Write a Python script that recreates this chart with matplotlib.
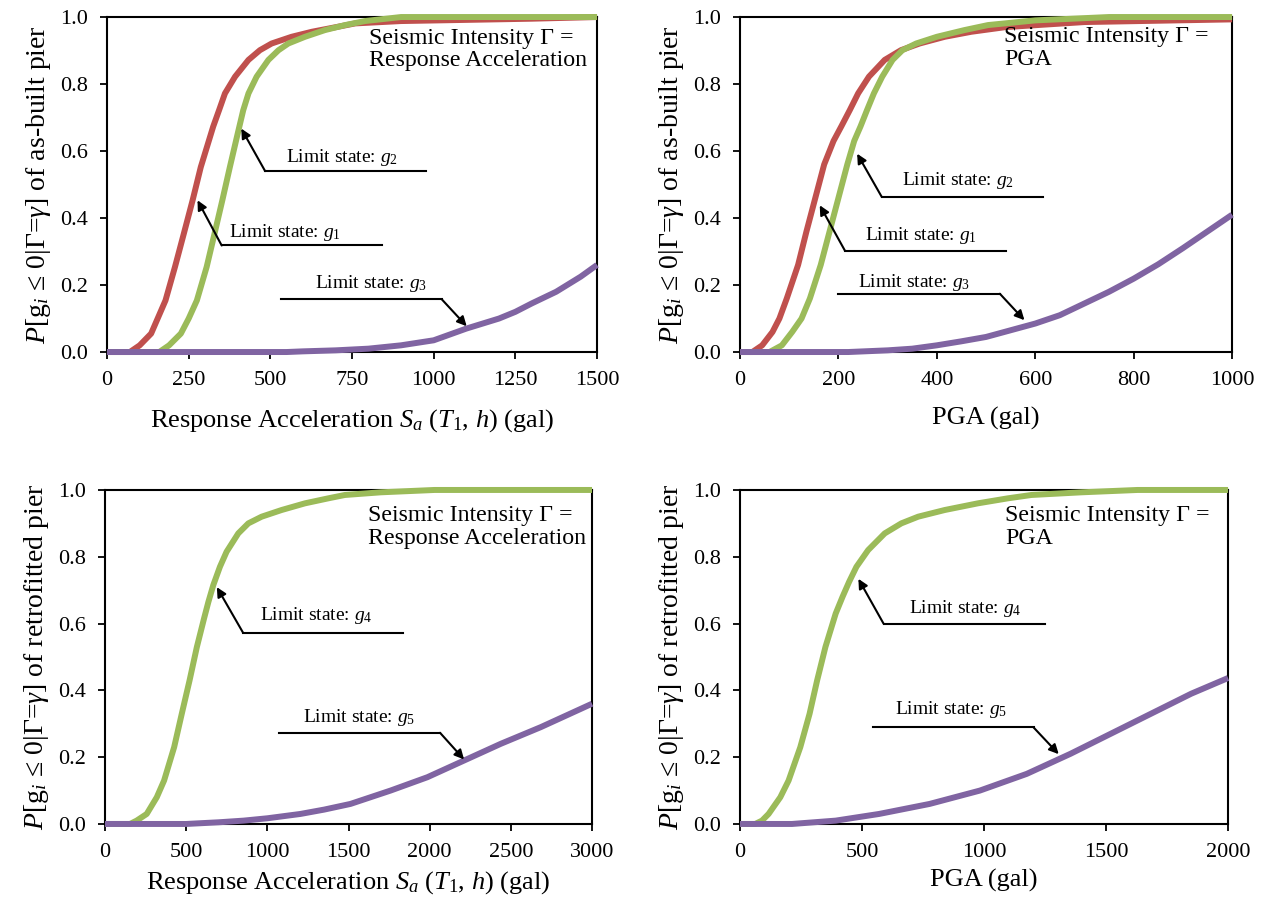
import matplotlib
matplotlib.use('Agg')
import matplotlib.pyplot as plt

# 폰트 설정 (Times 계열)
plt.rcParams['font.family'] = ['Liberation Serif', 'DejaVu Serif']
plt.rcParams['mathtext.fontset'] = 'custom'
plt.rcParams['mathtext.rm'] = 'Liberation Serif'
plt.rcParams['mathtext.it'] = 'Liberation Serif:italic'
plt.rcParams['mathtext.bf'] = 'Liberation Serif:bold'

RED = '#C0504D'
GREEN = '#9BBB59'
PURPLE = '#8064A2'

# ---- 데이터 ----
# as-built pier, Sa
sa_g1_x = [0, 70, 100, 135, 155, 179, 208, 235, 262, 287, 325, 343, 361, 392, 433, 468, 504, 565, 627, 707, 760, 900, 1300, 1500]
sa_g1_y = [0, 0, 0.02, 0.055, 0.10, 0.154, 0.254, 0.353, 0.453, 0.552, 0.673, 0.722, 0.772, 0.822, 0.872, 0.901, 0.921, 0.941, 0.956, 0.971, 0.981, 0.988, 0.995, 1.0]
sa_g2_x = [0, 160, 190, 226, 250, 275, 305, 329, 353, 376, 400, 417, 433, 458, 494, 525, 555, 606, 667, 729, 790, 900, 1500]
sa_g2_y = [0, 0, 0.02, 0.055, 0.10, 0.154, 0.254, 0.353, 0.453, 0.552, 0.652, 0.722, 0.772, 0.822, 0.872, 0.901, 0.921, 0.941, 0.961, 0.976, 0.988, 1.0, 1.0]
sa_g3_x = [0, 550, 600, 700, 800, 900, 1000, 1100, 1200, 1250, 1300, 1375, 1450, 1500]
sa_g3_y = [0, 0, 0.002, 0.005, 0.01, 0.02, 0.035, 0.07, 0.10, 0.12, 0.145, 0.18, 0.225, 0.26]

# as-built pier, PGA
pga_g1_x = [0, 25, 45, 66, 80, 95, 118, 135, 153, 171, 190, 206, 223, 240, 262, 294, 327, 365, 416, 470, 540, 700, 1000]
pga_g1_y = [0, 0, 0.02, 0.06, 0.10, 0.16, 0.26, 0.36, 0.46, 0.56, 0.63, 0.674, 0.722, 0.772, 0.822, 0.872, 0.901, 0.921, 0.941, 0.956, 0.97, 0.985, 0.993]
pga_g2_x = [0, 60, 85, 106, 125, 142, 164, 182, 200, 218, 232, 245, 258, 272, 289, 310, 330, 358, 400, 456, 504, 600, 750, 1000]
pga_g2_y = [0, 0, 0.02, 0.06, 0.10, 0.16, 0.26, 0.36, 0.46, 0.56, 0.63, 0.674, 0.722, 0.772, 0.822, 0.872, 0.901, 0.921, 0.941, 0.961, 0.976, 0.99, 1.0, 1.0]
pga_g3_x = [0, 220, 300, 350, 400, 450, 500, 550, 600, 650, 700, 750, 800, 850, 900, 950, 1000]
pga_g3_y = [0, 0, 0.005, 0.01, 0.02, 0.032, 0.045, 0.065, 0.085, 0.11, 0.145, 0.18, 0.219, 0.262, 0.31, 0.36, 0.41]

# retrofitted pier, Sa
sa_g4_x = [0, 154, 195, 257, 319, 364, 426, 473, 521, 566, 610, 637, 667, 708, 749, 821, 883, 965, 1088, 1232, 1376, 1478, 1700, 2030, 3000]
sa_g4_y = [0, 0, 0.01, 0.03, 0.08, 0.13, 0.23, 0.33, 0.43, 0.53, 0.615, 0.665, 0.715, 0.77, 0.815, 0.87, 0.90, 0.92, 0.94, 0.96, 0.975, 0.985, 0.993, 1.0, 1.0]
sa_g5_x = [0, 500, 700, 854, 1000, 1204, 1350, 1512, 1759, 1986, 2212, 2438, 2685, 3000]
sa_g5_y = [0, 0, 0.005, 0.01, 0.017, 0.03, 0.043, 0.06, 0.10, 0.14, 0.19, 0.24, 0.29, 0.36]

# retrofitted pier, PGA
pga_g4_x = [0, 62, 90, 117, 165, 199, 247, 285, 316, 350, 392, 420, 447, 477, 525, 593, 661, 730, 839, 975, 1098, 1194, 1400, 1629, 2000]
pga_g4_y = [0, 0, 0.01, 0.03, 0.08, 0.13, 0.23, 0.33, 0.43, 0.53, 0.63, 0.68, 0.725, 0.77, 0.82, 0.87, 0.90, 0.92, 0.94, 0.96, 0.975, 0.985, 0.993, 1.0, 1.0]
pga_g5_x = [0, 213, 392, 570, 777, 983, 1175, 1354, 1519, 1684, 1849, 2000]
pga_g5_y = [0, 0, 0.01, 0.03, 0.06, 0.10, 0.15, 0.21, 0.27, 0.33, 0.39, 0.437]

y_ticks = [0.0, 0.2, 0.4, 0.6, 0.8, 1.0]
sa_label = r'Response Acceleration $S_a$ ($T_1$, $h$) (gal)'
pga_label = 'PGA (gal)'
ylab_built = r'$P$[g$_i$ ≤ 0|Γ=$\gamma$] of as-built pier'
ylab_retro = r'$P$[g$_i$ ≤ 0|Γ=$\gamma$] of retrofitted pier'

panels = [
    dict(pos=[0.0848, 0.6093, 0.3883, 0.3718], xmax=1500, xt=[0, 250, 500, 750, 1000, 1250, 1500],
         xlabel=sa_label, ylabel=ylab_built, labelpad=12, box='Seismic Intensity Γ =\nResponse Acceleration',
         curves=[(sa_g1_x, sa_g1_y, RED), (sa_g2_x, sa_g2_y, GREEN), (sa_g3_x, sa_g3_y, PURPLE)],
         box_xy=(801, 0.968),
         notes=[('$g_2$', (549, 0.58), (411, 0.667), (484, 0.54), 976),
                ('$g_1$', (374, 0.356), (277, 0.453), (351, 0.318), 843),
                ('$g_3$', (638, 0.204), (1101, 0.077), (1025, 0.157), 532)]),
    dict(pos=[0.5864, 0.6093, 0.3899, 0.3718], xmax=1000, xt=[0, 200, 400, 600, 800, 1000],
         xlabel=pga_label, ylabel=ylab_built, labelpad=12, box='Seismic Intensity Γ =\nPGA',
         curves=[(pga_g1_x, pga_g1_y, RED), (pga_g2_x, pga_g2_y, GREEN), (pga_g3_x, pga_g3_y, PURPLE)],
         box_xy=(537, 0.973),
         notes=[('$g_2$', (329, 0.512), (238, 0.592), (288, 0.463), 615),
                ('$g_1$', (253, 0.348), (162, 0.438), (213, 0.303), 540),
                ('$g_3$', (240, 0.209), (578, 0.095), (528, 0.174), 200)]),
    dict(pos=[0.0832, 0.0855, 0.3859, 0.3707], xmax=3000, xt=[0, 500, 1000, 1500, 2000, 2500, 3000],
         xlabel=sa_label, ylabel=ylab_retro, labelpad=5, box='Seismic Intensity Γ =\nResponse Acceleration',
         curves=[(sa_g4_x, sa_g4_y, GREEN), (sa_g5_x, sa_g5_y, PURPLE)],
         box_xy=(1621, 0.955),
         notes=[('$g_4$', (953, 0.625), (689, 0.709), (850, 0.573), 1837),
                ('$g_5$', (1218, 0.32), (2212, 0.193), (2064, 0.273), 1070)]),
    dict(pos=[0.5864, 0.0855, 0.3867, 0.3707], xmax=2000, xt=[0, 500, 1000, 1500, 2000],
         xlabel=pga_label, ylabel=ylab_retro, labelpad=5, box='Seismic Intensity Γ =\nPGA',
         curves=[(pga_g4_x, pga_g4_y, GREEN), (pga_g5_x, pga_g5_y, PURPLE)],
         box_xy=(1086, 0.955),
         notes=[('$g_4$', (694, 0.645), (485, 0.734), (588, 0.6), 1251),
                ('$g_5$', (636, 0.342), (1306, 0.209), (1203, 0.289), 543)]),
]

fig = plt.figure(figsize=(12.62, 9.01), dpi=100)

for p in panels:
    ax = fig.add_axes(p['pos'])
    for xs, ys, c in p['curves']:
        ax.plot(xs, ys, color=c, lw=4.3, clip_on=False, solid_capstyle='butt',
                solid_joinstyle='round', zorder=3)

    ax.set_xlim(0, p['xmax'])
    ax.set_ylim(0, 1)
    ax.set_xticks(p['xt'])
    ax.set_yticks(y_ticks)
    ax.set_yticklabels([f'{v:.1f}' for v in y_ticks])
    ax.tick_params(direction='out', length=5, width=1.3, labelsize=16, pad=9, color='black')
    for s in ax.spines.values():
        s.set_linewidth(1.5)
        s.set_zorder(2)

    ax.set_xlabel(p['xlabel'], fontsize=19, labelpad=p['labelpad'])
    ax.set_ylabel(p['ylabel'], fontsize=20, labelpad=5)

    ax.text(p['box_xy'][0], p['box_xy'][1], p['box'], fontsize=17.2, va='top', ha='left',
            linespacing=1.1, zorder=4)

    # 주석 (Limit state 화살표)
    for g, txy, tip, tail, x_end in p['notes']:
        ax.text(txy[0], txy[1], 'Limit state: ' + g, fontsize=14, va='center', ha='left', zorder=4)
        ax.plot([tail[0], x_end], [tail[1], tail[1]], color='black', lw=1.5, zorder=4)
        ax.annotate('', xy=tip, xytext=tail,
                    arrowprops=dict(arrowstyle='-|>', color='black', lw=1.5,
                                    mutation_scale=14, shrinkA=0, shrinkB=0), zorder=4)

fig.savefig('out.png', dpi=100)
